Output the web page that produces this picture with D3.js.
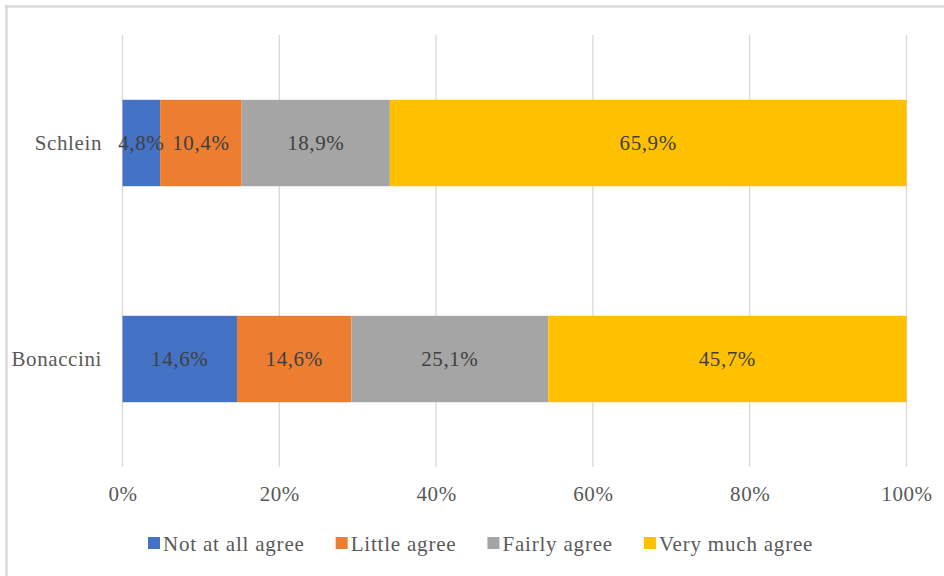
<!DOCTYPE html>
<html>
<head>
<meta charset="utf-8">
<script src="https://cdn.jsdelivr.net/npm/d3@7"></script>
<style>
  html, body { margin: 0; padding: 0; background: #fff; }
  svg { display: block; }
</style>
</head>
<body>
<svg id="chart" width="944" height="576"></svg>
<script>
// Survey answers per leader (share of respondents, %)
const categories = ["Schlein", "Bonaccini"];
const seriesNames = ["Not at all agree", "Little agree", "Fairly agree", "Very much agree"];
const notAtAll = [4.8, 14.6];
const little = [10.4, 14.6];
const fairly = [18.9, 25.1];
const veryMuch = [65.9, 45.7];
const tickValues = [0, 20, 40, 60, 80, 100];
const colors = ["#4472C4", "#ED7D31", "#A5A5A5", "#FFC000"];

const seriesValues = [notAtAll, little, fairly, veryMuch];
const rows = categories.map((c, i) => {
  const r = { name: c };
  seriesNames.forEach((s, k) => { r[s] = seriesValues[k][i]; });
  return r;
});

const FONT = '"Liberation Serif", "Times New Roman", Tinos, serif';
const FS = 21;
const LS = "0.6px";
const styleText = sel => sel
  .style("font-family", FONT)
  .style("font-size", FS + "px")
  .style("letter-spacing", LS);

const svg = d3.select("#chart");
const W = 944, H = 576;
const plot = { left: 122.5, right: 906.5, top: 35, bottom: 467 };

// outer frame (top and left edges visible)
svg.append("line").attr("x1", 5).attr("x2", W).attr("y1", 6.5).attr("y2", 6.5)
  .attr("stroke", "#d9d9d9").attr("stroke-width", 2.5);
svg.append("line").attr("x1", 6.5).attr("x2", 6.5).attr("y1", 5).attr("y2", H)
  .attr("stroke", "#d9d9d9").attr("stroke-width", 2.5);

const x = d3.scaleLinear().domain([0, 100]).range([plot.left, plot.right]);
const y = d3.scaleBand().domain(categories).range([plot.top, plot.bottom])
  .paddingInner(0.6).paddingOuter(0.3);

// vertical gridlines
svg.append("g").selectAll("line").data(tickValues).join("line")
  .attr("x1", d => x(d)).attr("x2", d => x(d))
  .attr("y1", plot.top).attr("y2", plot.bottom)
  .attr("stroke", "#d9d9d9").attr("stroke-width", 1.3);

// x axis labels
const xAxis = d3.axisBottom(x).tickValues(tickValues).tickSize(0).tickPadding(0)
  .tickFormat(d => d + "%");
const gx = svg.append("g").attr("transform", `translate(0,${plot.bottom})`).call(xAxis);
gx.select(".domain").remove();
gx.selectAll("text").attr("y", 34).attr("dy", 0)
  .attr("fill", "#595959").call(styleText);

// category labels
const yAxis = d3.axisLeft(y).tickSize(0).tickPadding(0);
const gy = svg.append("g").attr("transform", `translate(102,0)`).call(yAxis);
gy.select(".domain").remove();
gy.selectAll("text").attr("dy", "0.33em")
  .attr("fill", "#595959").call(styleText);

// stacked bars
const stack = d3.stack().keys(seriesNames)(rows);
const layer = svg.append("g").selectAll("g").data(stack).join("g")
  .attr("fill", (d, i) => colors[i]);
layer.selectAll("rect").data(d => d).join("rect")
  .attr("x", d => x(d[0]))
  .attr("width", d => x(d[1]) - x(d[0]))
  .attr("y", d => y(d.data.name))
  .attr("height", y.bandwidth());

// data labels
const fmt = v => v.toFixed(1).replace(".", ",") + "%";
svg.append("g").selectAll("g").data(stack).join("g")
  .selectAll("text").data(d => d).join("text")
  .attr("x", d => (x(d[0]) + x(d[1])) / 2)
  .attr("y", d => y(d.data.name) + y.bandwidth() / 2)
  .attr("dy", "0.33em")
  .attr("text-anchor", "middle")
  .attr("fill", "#404040")
  .call(styleText)
  .text(d => fmt(d[1] - d[0]));

// legend
const legend = svg.append("g");
const items = legend.selectAll("g").data(seriesNames).join("g");
items.append("rect").attr("width", 12).attr("height", 12)
  .attr("y", 537).attr("fill", (d, i) => colors[i]);
items.append("text").attr("x", 15).attr("y", 551)
  .attr("fill", "#595959").call(styleText)
  .style("letter-spacing", "0.8px").text(d => d);
let cx = 0;
const offsets = [];
items.each(function () {
  const w = this.querySelector("text").getComputedTextLength();
  offsets.push(cx);
  cx += 15 + w + 31;
});
const start = 148;
items.attr("transform", (d, i) => `translate(${start + offsets[i]},0)`);
</script>
</body>
</html>
